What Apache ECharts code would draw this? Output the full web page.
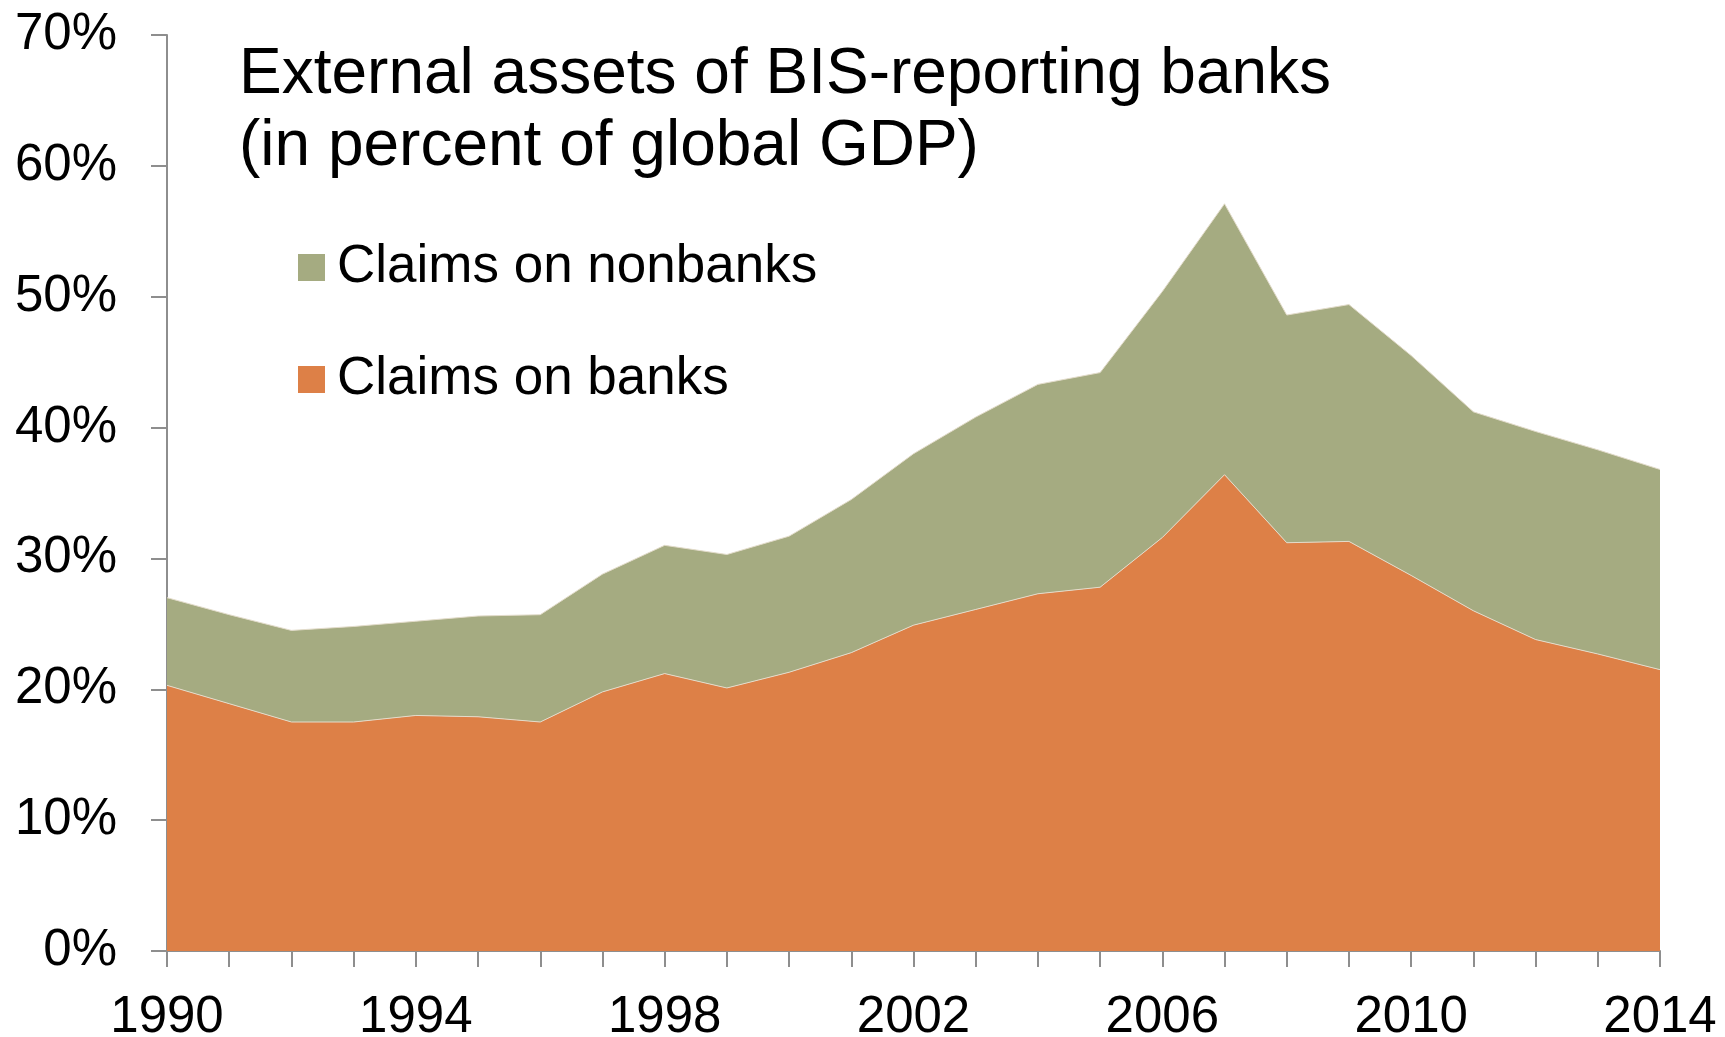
<!DOCTYPE html>
<html>
<head>
<meta charset="utf-8">
<script src="https://cdn.jsdelivr.net/npm/echarts@6/dist/echarts.min.js"></script>
<style>
  html, body { margin: 0; padding: 0; background: #fff; }
  #chart { width: 1725px; height: 1037px; }
</style>
</head>
<body>
<div id="chart"></div>
<script>
// values, percent of global GDP
const years = ['1990', '1991', '1992', '1993', '1994', '1995', '1996', '1997', '1998', '1999',
  '2000', '2001', '2002', '2003', '2004', '2005', '2006', '2007', '2008', '2009',
  '2010', '2011', '2012', '2013', '2014']
const claimsOnBanks = [20.3, 18.9, 17.5, 17.5, 18.0, 17.9, 17.5, 19.8, 21.2, 20.1,
  21.3, 22.8, 24.9, 26.1, 27.3, 27.8, 31.6, 36.4, 31.2, 31.3,
  28.7, 26.0, 23.8, 22.7, 21.5]
const claimsOnNonbanks = [6.7, 6.8, 7.0, 7.3, 7.2, 7.7, 8.2, 9.0, 9.8, 10.2,
  10.4, 11.7, 13.1, 14.7, 16.0, 16.4, 18.8, 20.7, 17.4, 18.1,
  16.8, 15.2, 15.9, 15.6, 15.3]
const yTicks = { min: 0, max: 70, step: 10 }

const font = '"Liberation Sans", Arial, Helvetica, sans-serif'
const axisGray = '#8e8e8e'

const chart = echarts.init(document.getElementById('chart'))

const option = {
    animation: false,
    backgroundColor: '#fff',
    textStyle: { fontFamily: font, color: '#000' },
    title: {
        text: 'External assets of BIS-reporting banks\n(in percent of global GDP)',
        left: 234,
        top: 34,
        textStyle: {
            fontFamily: font,
            fontSize: 64,
            fontWeight: 'normal',
            lineHeight: 72,
            color: '#000'
        }
    },
    legend: {
        orient: 'vertical',
        left: 293,
        top: 236,
        itemWidth: 27,
        itemHeight: 27,
        itemGap: 59,
        icon: 'rect',
        data: ['Claims on nonbanks', 'Claims on banks'],
        textStyle: {
            fontFamily: font,
            fontSize: 53,
            color: '#000',
            padding: [0, 0, 0, 7]
        }
    },
    grid: {
        left: 167,
        right: 65,
        top: 35,
        bottom: 86,
        // v6 shrinks the grid to keep labels inside; keep it fixed instead
        outerBoundsMode: 'none'
    },
    xAxis: {
        type: 'category',
        data: years,
        boundaryGap: false,
        axisLine: { lineStyle: { color: axisGray, width: 2 } },
        axisTick: {
            interval: 0,
            length: 16,
            lineStyle: { color: axisGray, width: 2 }
        },
        axisLabel: {
            interval: 3,
            margin: 41,
            fontFamily: font,
            fontSize: 51,
            color: '#000'
        },
        splitLine: { show: false }
    },
    yAxis: {
        type: 'value',
        min: yTicks.min,
        max: yTicks.max,
        interval: yTicks.step,
        axisLine: { show: true, lineStyle: { color: axisGray, width: 2 } },
        axisTick: {
            show: true,
            length: 16,
            lineStyle: { color: axisGray, width: 2 }
        },
        axisLabel: {
            formatter: '{value}%',
            margin: 50,
            fontFamily: font,
            fontSize: 51,
            color: '#000'
        },
        splitLine: { show: false }
    },
    series: [
        {
            name: 'Claims on banks',
            type: 'line',
            stack: 'assets',
            data: claimsOnBanks,
            symbol: 'none',
            color: '#dd8047',
            lineStyle: { width: 1, color: '#e3dccb' },
            areaStyle: { color: '#dd8047', opacity: 1 },
            z: 2
        },
        {
            name: 'Claims on nonbanks',
            type: 'line',
            stack: 'assets',
            data: claimsOnNonbanks,
            symbol: 'none',
            color: '#a5ab81',
            lineStyle: { width: 1, color: '#e3dccb' },
            areaStyle: { color: '#a5ab81', opacity: 1 },
            z: 1
        }
    ]
}
chart.setOption(option)
</script>
</body>
</html>
